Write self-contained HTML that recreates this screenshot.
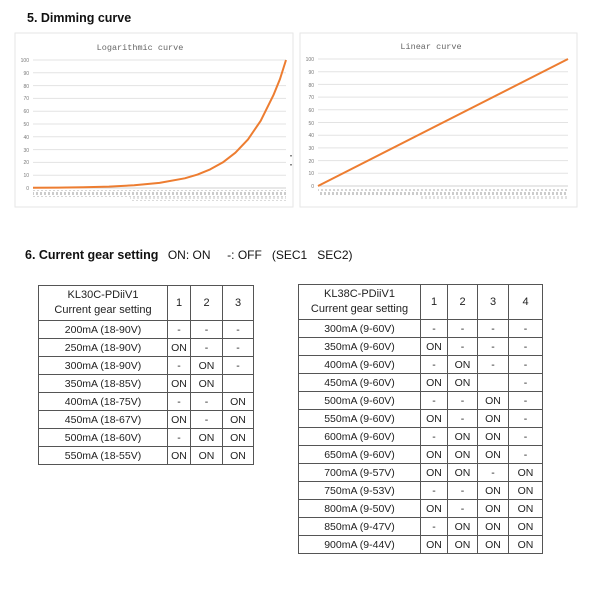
<!DOCTYPE html>
<html><head><meta charset="utf-8"><style>
body{margin:0;width:600px;height:600px;background:#fff;font-family:"Liberation Sans",sans-serif;position:relative;overflow:hidden}
.h{position:absolute;font-weight:bold;font-size:12.5px;color:#111}
table{position:absolute;border-collapse:collapse;font-size:10.5px;color:#222}
td{border:1px solid #555;text-align:center;padding:0;height:17px}
.hd td{height:34px;font-size:11px;line-height:15px}
</style></head><body>
<div class="h" style="left:27px;top:11px">5. Dimming curve</div>
<svg width="600" height="215" style="position:absolute;left:0;top:0" font-family="Liberation Mono,monospace">
<defs><pattern id="tk" width="4" height="8" patternUnits="userSpaceOnUse"><rect x="0" y="0" width="2" height="3" fill="#999"/><rect x="1" y="4" width="2" height="3" fill="#aaa"/></pattern></defs>
<rect x="15" y="33" width="278" height="174" fill="#fff" stroke="#e6e6e6"/>
<rect x="300" y="33" width="277" height="174" fill="#fff" stroke="#e6e6e6"/>
<text x="140" y="50" font-size="8.5" fill="#666" text-anchor="middle">Logarithmic curve</text>
<text x="431" y="49" font-size="8.5" fill="#666" text-anchor="middle">Linear curve</text>
<g font-size="5" fill="#777" font-family="Liberation Sans" text-anchor="end">
<g>
<line x1="33" x2="286" y1="60" y2="60" stroke="#e3e3e3"/><line x1="33" x2="286" y1="72.8" y2="72.8" stroke="#e3e3e3"/><line x1="33" x2="286" y1="85.6" y2="85.6" stroke="#e3e3e3"/><line x1="33" x2="286" y1="98.4" y2="98.4" stroke="#e3e3e3"/><line x1="33" x2="286" y1="111.2" y2="111.2" stroke="#e3e3e3"/><line x1="33" x2="286" y1="124" y2="124" stroke="#e3e3e3"/><line x1="33" x2="286" y1="136.8" y2="136.8" stroke="#e3e3e3"/><line x1="33" x2="286" y1="149.6" y2="149.6" stroke="#e3e3e3"/><line x1="33" x2="286" y1="162.4" y2="162.4" stroke="#e3e3e3"/><line x1="33" x2="286" y1="175.2" y2="175.2" stroke="#e3e3e3"/><line x1="33" x2="286" y1="188" y2="188" stroke="#d0d0d0"/>
<text x="29" y="62">100</text><text x="29" y="75">90</text><text x="29" y="88">80</text><text x="29" y="100">70</text><text x="29" y="113">60</text><text x="29" y="126">50</text><text x="29" y="139">40</text><text x="29" y="152">30</text><text x="29" y="164">20</text><text x="29" y="177">10</text><text x="29" y="190">0</text>
</g>
<g transform="translate(285,-1)">
<line x1="33" x2="283" y1="60" y2="60" stroke="#e3e3e3"/><line x1="33" x2="283" y1="72.7" y2="72.7" stroke="#e3e3e3"/><line x1="33" x2="283" y1="85.4" y2="85.4" stroke="#e3e3e3"/><line x1="33" x2="283" y1="98.1" y2="98.1" stroke="#e3e3e3"/><line x1="33" x2="283" y1="110.8" y2="110.8" stroke="#e3e3e3"/><line x1="33" x2="283" y1="123.5" y2="123.5" stroke="#e3e3e3"/><line x1="33" x2="283" y1="136.2" y2="136.2" stroke="#e3e3e3"/><line x1="33" x2="283" y1="148.9" y2="148.9" stroke="#e3e3e3"/><line x1="33" x2="283" y1="161.6" y2="161.6" stroke="#e3e3e3"/><line x1="33" x2="283" y1="174.3" y2="174.3" stroke="#e3e3e3"/><line x1="33" x2="283" y1="187" y2="187" stroke="#d0d0d0"/>
<text x="29" y="62">100</text><text x="29" y="75">90</text><text x="29" y="88">80</text><text x="29" y="100">70</text><text x="29" y="113">60</text><text x="29" y="126">50</text><text x="29" y="138">40</text><text x="29" y="151">30</text><text x="29" y="164">20</text><text x="29" y="176">10</text><text x="29" y="189">0</text>
</g>
</g>
<rect x="33" y="190" width="253" height="7" fill="url(#tk)" opacity="0.5"/>
<rect x="130" y="197" width="156" height="4" fill="url(#tk)" opacity="0.35"/>
<rect x="318" y="189" width="250" height="7" fill="url(#tk)" opacity="0.5"/>
<rect x="420" y="196" width="148" height="4" fill="url(#tk)" opacity="0.35"/>
<polyline fill="none" stroke="#ed7d31" stroke-width="2" stroke-linejoin="round" points="33,187.8 58.3,187.6 83.6,187.3 108.9,186.6 134.2,185.3 159.5,182.9 184.8,178.3 197.5,174.6 210.1,169.4 222.8,162.4 235.4,152.7 248,139.4 260.7,120.8 273.4,95.2 280,79 286,60"/>
<line x1="318" y1="186" x2="568" y2="59" stroke="#ed7d31" stroke-width="2"/>
<rect x="290" y="155" width="2" height="1.5" fill="#888"/><rect x="290" y="164" width="2" height="1.5" fill="#888"/>
</svg>
<div class="h" style="left:25px;top:248px">6. Current gear setting <span style="font-weight:normal;font-size:12px;margin-left:6px">ON: ON &nbsp;&nbsp;&nbsp; -: OFF &nbsp;&nbsp;(SEC1 &nbsp; SEC2)</span></div>
<table style="left:38px;top:285px;width:216px">
<colgroup><col style="width:129px"><col style="width:23px"><col style="width:32px"><col style="width:31px"></colgroup>
<tr class="hd"><td>KL30C-PDiiV1<br>Current gear setting</td><td>1</td><td>2</td><td>3</td></tr>
<tr><td>200mA (18-90V)</td><td>-</td><td>-</td><td>-</td></tr>
<tr><td>250mA (18-90V)</td><td>ON</td><td>-</td><td>-</td></tr>
<tr><td>300mA (18-90V)</td><td>-</td><td>ON</td><td>-</td></tr>
<tr><td>350mA (18-85V)</td><td>ON</td><td>ON</td><td></td></tr>
<tr><td>400mA (18-75V)</td><td>-</td><td>-</td><td>ON</td></tr>
<tr><td>450mA (18-67V)</td><td>ON</td><td>-</td><td>ON</td></tr>
<tr><td>500mA (18-60V)</td><td>-</td><td>ON</td><td>ON</td></tr>
<tr><td>550mA (18-55V)</td><td>ON</td><td>ON</td><td>ON</td></tr>
</table>
<table style="left:298px;top:284px;width:245px">
<colgroup><col style="width:122px"><col style="width:27px"><col style="width:30px"><col style="width:31px"><col style="width:34px"></colgroup>
<tr class="hd"><td>KL38C-PDiiV1<br>Current gear setting</td><td>1</td><td>2</td><td>3</td><td>4</td></tr>
<tr><td>300mA (9-60V)</td><td>-</td><td>-</td><td>-</td><td>-</td></tr>
<tr><td>350mA (9-60V)</td><td>ON</td><td>-</td><td>-</td><td>-</td></tr>
<tr><td>400mA (9-60V)</td><td>-</td><td>ON</td><td>-</td><td>-</td></tr>
<tr><td>450mA (9-60V)</td><td>ON</td><td>ON</td><td></td><td>-</td></tr>
<tr><td>500mA (9-60V)</td><td>-</td><td>-</td><td>ON</td><td>-</td></tr>
<tr><td>550mA (9-60V)</td><td>ON</td><td>-</td><td>ON</td><td>-</td></tr>
<tr><td>600mA (9-60V)</td><td>-</td><td>ON</td><td>ON</td><td>-</td></tr>
<tr><td>650mA (9-60V)</td><td>ON</td><td>ON</td><td>ON</td><td>-</td></tr>
<tr><td>700mA (9-57V)</td><td>ON</td><td>ON</td><td>-</td><td>ON</td></tr>
<tr><td>750mA (9-53V)</td><td>-</td><td>-</td><td>ON</td><td>ON</td></tr>
<tr><td>800mA (9-50V)</td><td>ON</td><td>-</td><td>ON</td><td>ON</td></tr>
<tr><td>850mA (9-47V)</td><td>-</td><td>ON</td><td>ON</td><td>ON</td></tr>
<tr><td>900mA (9-44V)</td><td>ON</td><td>ON</td><td>ON</td><td>ON</td></tr>
</table>
</body></html>
